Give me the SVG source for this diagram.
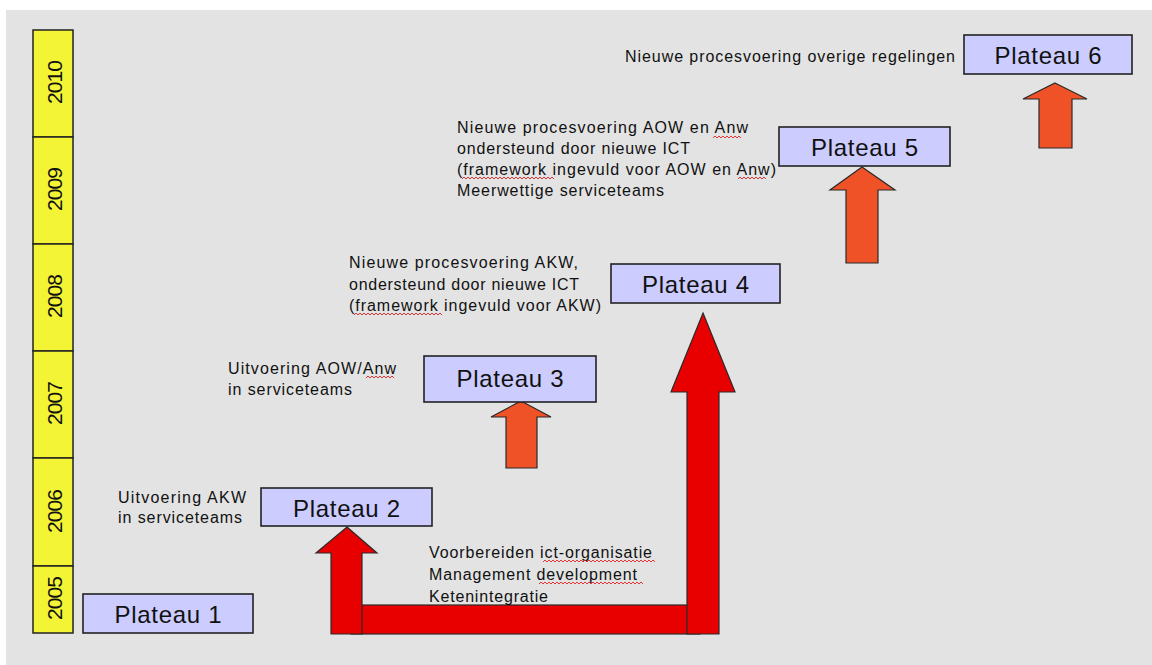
<svg xmlns="http://www.w3.org/2000/svg" width="1152" height="665" viewBox="0 0 1152 665">
<style>
.bg{fill:#e3e3e3}
.yr rect{fill:#f4f436;stroke:#222;stroke-width:1.5}
.yr text{font-family:"Liberation Sans",Arial,sans-serif;font-size:21px;fill:#111;text-anchor:middle}
.pl rect{fill:#ccccff;stroke:#222;stroke-width:1.6}
.pl text{font-family:"Liberation Sans",Arial,sans-serif;font-size:24px;fill:#111;text-anchor:middle}
.lb text{font-family:"Liberation Sans",Arial,sans-serif;font-size:16px;fill:#111}
.red{fill:#e80000;stroke:#2a2a2a;stroke-width:1.2;stroke-linejoin:miter}
.org{fill:#f05228;stroke:#2a2a2a;stroke-width:1.2;stroke-linejoin:miter}
.sq{fill:none;stroke:#e02020;stroke-width:0.9}
</style>
<rect class="bg" x="6" y="10" width="1146" height="655"/>

<g id="years" class="yr">
  <g id="y2010"><rect x="33" y="30" width="40" height="107"/><text transform="translate(62,82) rotate(-90)" textLength="44">2010</text></g>
  <g id="y2009"><rect x="33" y="137" width="40" height="107"/><text transform="translate(62,189) rotate(-90)" textLength="44">2009</text></g>
  <g id="y2008"><rect x="33" y="244" width="40" height="107"/><text transform="translate(62,296) rotate(-90)" textLength="44">2008</text></g>
  <g id="y2007"><rect x="33" y="351" width="40" height="107"/><text transform="translate(62,403) rotate(-90)" textLength="44">2007</text></g>
  <g id="y2006"><rect x="33" y="458" width="40" height="108"/><text transform="translate(62,511) rotate(-90)" textLength="44">2006</text></g>
  <g id="y2005"><rect x="33" y="566" width="40" height="67"/><text transform="translate(62,598) rotate(-90)" textLength="44">2005</text></g>
</g>

<g id="connectors">
  <rect class="red" x="351" y="605" width="349" height="29"/>
  <polygon class="red" points="347,527 377,553 362,553 362,634 331,634 331,553 316,553"/>
  <polygon class="red" points="703,313 735,392 719,392 719,634 687,634 687,392 671,392"/>
  <polygon class="org" points="521,401 551,417 537,417 537,468 506,468 506,417 491,417"/>
  <polygon class="org" points="862,167 895,190 878,190 878,263 846,263 846,190 830,190"/>
  <polygon class="org" points="1055,83 1087,99 1072,99 1072,148 1039,148 1039,99 1023,99"/>
</g>

<g id="plateau1" class="pl"><rect x="83" y="594" width="170" height="39"/><text x="168" y="623" textLength="107">Plateau 1</text></g>
<g id="plateau2" class="pl"><rect x="261" y="488" width="171" height="38"/><text x="346.5" y="516.5" textLength="107">Plateau 2</text></g>
<g id="plateau3" class="pl"><rect x="424" y="356" width="172" height="46"/><text x="510" y="387" textLength="107">Plateau 3</text></g>
<g id="plateau4" class="pl"><rect x="611" y="264" width="169" height="39"/><text x="695.5" y="293" textLength="107">Plateau 4</text></g>
<g id="plateau5" class="pl"><rect x="779" y="127" width="171" height="39"/><text x="864.5" y="156" textLength="107">Plateau 5</text></g>
<g id="plateau6" class="pl"><rect x="964" y="35" width="168" height="39"/><text x="1048" y="64" textLength="107">Plateau 6</text></g>

<g id="label-p2" class="lb">
  <text x="118" y="503" textLength="128">Uitvoering AKW</text>
  <text x="118" y="523" textLength="124">in serviceteams</text>
</g>
<g id="label-p3" class="lb">
  <text x="228" y="374" textLength="168">Uitvoering AOW/Anw</text>
  <text x="228" y="395" textLength="124">in serviceteams</text>
  <path class="sq" d="M366,378 l2,-2 2,2 2,-2 2,2 2,-2 2,2 2,-2 2,2 2,-2 2,2 2,-2 2,2 2,-2 2,2"/>
</g>
<g id="label-p4" class="lb">
  <text x="349" y="268" textLength="229">Nieuwe procesvoering AKW,</text>
  <text x="349" y="290" textLength="230">ondersteund door nieuwe ICT</text>
  <text x="349" y="311" textLength="252">(framework ingevuld voor AKW)</text>
  <path class="sq" d="M354,315 l2,-2 2,2 2,-2 2,2 2,-2 2,2 2,-2 2,2 2,-2 2,2 2,-2 2,2 2,-2 2,2 2,-2 2,2 2,-2 2,2 2,-2 2,2 2,-2 2,2 2,-2 2,2 2,-2 2,2 2,-2 2,2 2,-2 2,2 2,-2 2,2 2,-2 2,2 2,-2 2,2 2,-2 2,2 2,-2 2,2 2,-2 2,2 2,-2 2,2"/>
</g>
<g id="label-p5" class="lb">
  <text x="457" y="133" textLength="291">Nieuwe procesvoering AOW en Anw</text>
  <text x="457" y="154" textLength="233">ondersteund door nieuwe ICT</text>
  <text x="457" y="175" textLength="319">(framework ingevuld voor AOW en Anw)</text>
  <text x="457" y="196" textLength="207">Meerwettige serviceteams</text>
  <path class="sq" d="M713,138 l2,-2 2,2 2,-2 2,2 2,-2 2,2 2,-2 2,2 2,-2 2,2 2,-2 2,2 2,-2 2,2"/>
  <path class="sq" d="M462,179 l2,-2 2,2 2,-2 2,2 2,-2 2,2 2,-2 2,2 2,-2 2,2 2,-2 2,2 2,-2 2,2 2,-2 2,2 2,-2 2,2 2,-2 2,2 2,-2 2,2 2,-2 2,2 2,-2 2,2 2,-2 2,2 2,-2 2,2 2,-2 2,2 2,-2 2,2 2,-2 2,2 2,-2 2,2 2,-2 2,2 2,-2 2,2 2,-2 2,2 2,-2 2,2"/>
  <path class="sq" d="M738,179 l2,-2 2,2 2,-2 2,2 2,-2 2,2 2,-2 2,2 2,-2 2,2 2,-2 2,2 2,-2 2,2"/>
</g>
<g id="label-p6" class="lb">
  <text x="625" y="62" textLength="330">Nieuwe procesvoering overige regelingen</text>
</g>
<g id="label-base" class="lb">
  <text x="429" y="558" textLength="223">Voorbereiden ict-organisatie</text>
  <text x="429" y="580" textLength="208">Management development</text>
  <text x="429" y="602" textLength="119">Ketenintegratie</text>
  <path class="sq" d="M543,562 l2,-2 2,2 2,-2 2,2 2,-2 2,2 2,-2 2,2 2,-2 2,2 2,-2 2,2 2,-2 2,2 2,-2 2,2 2,-2 2,2 2,-2 2,2 2,-2 2,2 2,-2 2,2 2,-2 2,2 2,-2 2,2 2,-2 2,2 2,-2 2,2 2,-2 2,2 2,-2 2,2 2,-2 2,2 2,-2 2,2 2,-2 2,2 2,-2 2,2 2,-2 2,2 2,-2 2,2 2,-2 2,2 2,-2 2,2 2,-2 2,2 2,-2 2,2"/>
  <path class="sq" d="M539,584 l2,-2 2,2 2,-2 2,2 2,-2 2,2 2,-2 2,2 2,-2 2,2 2,-2 2,2 2,-2 2,2 2,-2 2,2 2,-2 2,2 2,-2 2,2 2,-2 2,2 2,-2 2,2 2,-2 2,2 2,-2 2,2 2,-2 2,2 2,-2 2,2 2,-2 2,2 2,-2 2,2 2,-2 2,2 2,-2 2,2 2,-2 2,2 2,-2 2,2 2,-2 2,2 2,-2 2,2 2,-2 2,2 2,-2 2,2"/>
</g>
</svg>
